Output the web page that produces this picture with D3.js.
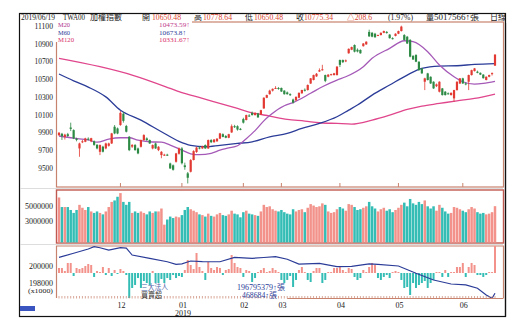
<!DOCTYPE html>
<html><head><meta charset="utf-8">
<script src="https://cdn.jsdelivr.net/npm/d3@7"></script>
<style>
html,body{margin:0;padding:0;background:#fff;}
svg{display:block;}
text{font-family:"Liberation Serif","Noto Sans CJK TC",serif;}
</style></head>
<body>
<svg id="c" width="527" height="325"></svg>
<script>
// ---------------- DATA ----------------
const monthTickIdx = [21, 42, 63, 76, 96, 116, 138];
const monthLabels = ["12", "01", "02", "03", "04", "05", "06"];
const priceTicks = [11100, 10900, 10700, 10500, 10300, 10100, 9900, 9700, 9500];
const volTicks = [5000000, 3000000];
const instTicks = [200000, 198000];

const openP = [9870,9885,9850,9880,9955,9926,9830,9720,9790,9795,9830,9800,9800,9760,9682,9740,9720,9750,9776,9964,9945,
9983,10110,9972,9851,9740,9758,9720,9739,9814,9833,9814,9720,9776,9701,9645,9645,9650,9551,9530,9570,9660,
9720,9530,9440,9458,9590,9680,9730,9720,9758,9720,9814,9790,9800,9830,9880,9860,9840,9900,9970,9970,9940,
10050,10040,10090,10120,10095,10114,10100,10170,10290,10330,10370,10395,10400,
10400,10370,10350,10330,10270,10260,10290,10340,10380,10377,10450,10490,10530,10585,10600,10545,10527,10550,10545,10545,
10714,10714,10700,10790,10830,10883,10830,10827,10870,10890,11030,11020,11010,10990,10995,11020,11030,11000,10960,10985,
11010,11040,10995,10976,10940,10760,10770,10695,10620,10470,10564,10526,10470,10420,10358,10395,10358,10340,10320,10283,10376,10450,
10508,10451,10470,10545,10590,10583,10570,10550,10490,10526,10560,10650.48];
const highP = [9905,9895,9885,9895,10010,9935,9840,9785,9815,9840,9845,9840,9810,9770,9765,9750,9785,9785,9895,9983,9955,
10140,10130,9985,9860,9770,9770,9730,9820,9880,9845,9820,9765,9785,9745,9690,9660,9660,9560,9540,9670,9730,
9735,9560,9455,9600,9700,9740,9745,9750,9765,9820,9825,9825,9835,9895,9890,9870,9885,9990,9985,9980,9950,
10065,10100,10105,10135,10125,10120,10155,10295,10325,10380,10395,10420,10410,
10405,10375,10360,10340,10280,10305,10350,10380,10395,10440,10512,10550,10568,10620,10660,10550,10555,10560,10570,10645,
10720,10720,10720,10845,10865,10890,10845,10835,10905,10925,11055,11030,11020,11000,11025,11045,11040,11005,10970,11015,
11045,11100,11005,10985,10950,10770,10780,10700,10625,10515,10570,10530,10475,10450,10475,10400,10365,10350,10350,10380,10475,10512,
10515,10460,10550,10605,10625,10595,10575,10555,10530,10550,10575,10778.64];
const lowP = [9860,9815,9820,9850,9915,9825,9800,9626,9780,9790,9810,9790,9750,9710,9645,9675,9710,9740,9770,9880,9880,
9975,10010,9900,9690,9725,9695,9655,9730,9805,9805,9770,9710,9715,9690,9610,9635,9635,9490,9470,9560,9650,
9540,9480,9326,9450,9585,9670,9710,9715,9715,9715,9780,9785,9795,9825,9845,9835,9835,9895,9950,9920,9925,
10000,10035,10075,10090,10090,10065,10095,10165,10285,10325,10360,10390,10380,
10355,10325,10325,10310,10225,10255,10285,10335,10360,10370,10445,10485,10525,10580,10595,10465,10520,10540,10540,10540,
10635,10680,10690,10785,10825,10800,10800,10785,10865,10885,10975,10970,10965,10985,10990,11015,11010,10955,10945,10980,
11005,11035,10935,10895,10745,10715,10690,10595,10560,10376,10485,10445,10390,10410,10350,10315,10315,10325,10315,10245,10370,10445,
10445,10430,10376,10540,10585,10565,10545,10505,10485,10520,10540,10650.48];
const closeP = [9896,9860,9875,9860,9940,9833,9815,9776,9800,9833,9820,9835,9760,9720,9758,9683,9776,9776,9889,9889,9888,
10120,10030,9908,9701,9758,9701,9664,9814,9870,9814,9776,9758,9720,9739,9682,9650,9645,9495,9480,9664,9720,
9554,9510,9390,9589,9690,9730,9720,9745,9720,9814,9790,9820,9830,9889,9850,9840,9880,9970,9960,9932,9932,
10010,10095,10080,10095,10120,10069,10150,10290,10320,10370,10390,10400,10390,
10360,10330,10330,10320,10235,10300,10345,10377,10370,10433,10508,10545,10560,10600,10610,10480,10550,10555,10565,10640,
10660,10690,10710,10840,10860,10808,10810,10790,10900,10920,10980,10977,10970,10995,11020,11040,11020,10960,10955,11010,
11040,11090,10940,10900,10752,10720,10695,10600,10564,10508,10489,10451,10395,10440,10470,10320,10320,10336,10345,10376,10470,10508,
10451,10440,10545,10600,10620,10570,10550,10510,10526,10545,10566.74,10775.34];

const volume = [6.2,4.9,4.9,4.9,4.5,4.1,4.5,5.2,4.8,4.5,4.9,4.3,4.1,4.3,4.1,3.9,4.3,4.9,5.6,5.8,6.3,
6.8,5.6,5.2,5.6,4.1,4.3,4.1,4.3,4.1,3.9,4.3,4.1,4.3,4.3,4.7,2.5,3.2,3.6,3.4,3.6,3.5,
3.8,4.5,4.9,4.6,4.4,4.2,3.9,3.8,3.6,4.0,3.7,3.6,3.9,4.1,3.8,3.7,3.9,4.4,4.0,3.9,3.5,
4.2,4.4,4.0,3.9,3.8,3.7,4.3,5.2,4.9,5.0,4.6,4.4,4.3,
4.5,4.2,4.0,3.9,4.6,4.3,4.5,4.6,4.2,4.8,5.3,5.1,4.9,5.0,5.4,5.2,4.3,4.1,4.2,4.6,
4.9,4.7,4.4,5.3,5.2,4.9,4.5,4.6,4.8,5.0,5.6,5.0,4.7,4.3,4.6,4.8,4.4,4.6,4.2,4.5,
4.8,5.2,5.5,5.0,6.0,5.4,5.2,5.6,5.3,5.8,5.0,4.7,5.0,4.4,5.2,4.8,4.3,4.0,4.1,4.9,4.8,4.6,
4.4,4.2,4.6,4.9,4.7,4.2,4.0,4.1,3.9,4.0,4.2,5.017566];

// institutional net buy/sell (lots)
const instNet = [87000,87000,35000,174000,174000,-52000,87000,69000,87000,121000,156000,139000,-69000,35000,17000,104000,-35000,87000,-52000,52000,-17000,
69000,35000,-35000,-434000,-260000,-208000,-87000,-260000,-139000,-174000,-208000,35000,-174000,-174000,-104000,-174000,-87000,-121000,-35000,-87000,-52000,
-69000,52000,226000,139000,69000,347000,104000,35000,-121000,191000,87000,52000,104000,87000,-35000,52000,69000,312000,174000,104000,87000,
-69000,52000,35000,-156000,-87000,17000,52000,87000,17000,35000,87000,52000,17000,
-121000,-174000,-121000,-52000,-243000,-121000,52000,104000,17000,-121000,-156000,35000,87000,87000,-174000,-121000,17000,17000,87000,87000,
104000,52000,17000,87000,69000,-69000,-121000,-87000,52000,17000,104000,174000,139000,-87000,-121000,-69000,-35000,-87000,17000,35000,
17000,-121000,-260000,-243000,-382000,-174000,-260000,-208000,-174000,-139000,-260000,-174000,-121000,17000,17000,-69000,52000,-69000,17000,17000,104000,104000,
174000,-69000,104000,174000,139000,-35000,-35000,-69000,-35000,17000,17000,468684];

// cumulative (x1000 lots), read at sample days
const cumIdx = [0,5,10,12,14,17,21,23,25,31,37,40,42,45,49,55,60,66,70,74,78,82,89,95,100,106,109,116,122,128,134,139,143,146,148,149];
const cumVal = [201020,201500,202000,202270,202150,201880,202150,202100,201290,200900,200500,200200,200250,200590,200510,200500,201020,200900,201000,201100,200800,200230,200310,199920,199950,200250,200200,200000,199140,198350,197880,197770,197380,196590,196200,196795];

// moving averages read at sample days
const m20Idx = [0,5,10,13,17,21,24,27,31,35,38,42,45,48,52,55,58,61,64,67,70,72,77,80,86,90,95,98,104,107,113,118,121,126,130,135,138,142,145,149];
const m20Val = [9860,9835,9815,9790,9825,9840,9840,9814,9795,9790,9758,9701,9660,9650,9665,9700,9725,9750,9830,9920,10030,10090,10200,10235,10340,10414,10489,10526,10639,10733,10845,10931,10920,10808,10658,10526,10470,10444,10451,10474];
const m60Idx = [0,5,10,16,21,28,35,41,45,50,55,61,66,72,78,83,89,95,99,102,107,113,119,124,130,136,142,149];
const m60Val = [10557,10480,10410,10300,10150,10039,9908,9800,9755,9739,9755,9776,9795,9851,9889,9945,10001,10076,10151,10208,10320,10433,10545,10620,10646,10650,10665,10674];
const m120Idx = [0,14,25,38,41,49,61,66,72,78,84,89,95,100,107,113,119,124,130,136,142,149];
const m120Val = [10733,10639,10545,10395,10358,10283,10170,10121,10084,10046,10028,10009,10001,9994,10039,10095,10159,10196,10226,10256,10283,10332];

// ---------------- DRAW ----------------
const svg = d3.select("#c");
const N = closeP.length;
const brown = "#c8836e";
const upC = "#e23a32", dnC = "#2d8a45";
const volUp = "#f2928a", volDn = "#33bdb5";

const x = d3.scaleLinear().domain([0, N - 1]).range([59, 495]);
const y = d3.scaleLinear().domain([9500, 10900]).range([168, 43.5]);
const yv = d3.scaleLinear().domain([0, 5000000]).range([243, 206.3]);
const yc = d3.scaleLinear().domain([198000, 200000]).range([283, 266]);
const yb = d3.scaleLinear().domain([0, 468684]).range([273, 246]);

// helper: text squeezed to reference width
function txt(g, t, xx, yy, size, color, len, anchor) {
  const el = g.append("text").attr("x", xx).attr("y", yy).attr("font-size", size).attr("fill", color).text(t);
  if (anchor) el.attr("text-anchor", anchor);
  if (len) el.attr("textLength", len).attr("lengthAdjust", "spacingAndGlyphs");
  return el;
}

// outer frame
svg.append("rect").attr("x", 19.5).attr("y", 13.5).attr("width", 486).attr("height", 303)
  .attr("fill", "none").attr("stroke", "#111").attr("stroke-width", 1.2);

// panel borders
svg.append("rect").attr("x", 56.5).attr("y", 22).attr("width", 447).attr("height", 165)
  .attr("fill", "none").attr("stroke", brown).attr("stroke-width", 1.2);
svg.append("rect").attr("x", 56.5).attr("y", 190).attr("width", 447).attr("height", 53)
  .attr("fill", "none").attr("stroke", "#c05a50").attr("stroke-width", 1.4);
svg.append("path").attr("d", "M56.5,298 V246 H503.5 V298").attr("fill", "none").attr("stroke", brown).attr("stroke-width", 1.2);
[188.5, 244.5].forEach(v => svg.append("line").attr("x1", 20).attr("x2", 503).attr("y1", v).attr("y2", v).attr("stroke", "#ddd"));

const defs = svg.append("defs");
defs.append("clipPath").attr("id", "cm").append("rect").attr("x", 57).attr("y", 22).attr("width", 446).attr("height", 165);
const gMain = svg.append("g").attr("clip-path", "url(#cm)");

// MA lines
const lineGen = d3.line().curve(d3.curveMonotoneX);
function maLine(idx, val, color) {
  gMain.append("path").attr("d", lineGen(idx.map((d, k) => [x(d), y(val[k])])))
    .attr("fill", "none").attr("stroke", color).attr("stroke-width", 1.3);
}
maLine(m120Idx, m120Val, "#e0468c");
maLine(m60Idx, m60Val, "#2b3c98");
maLine(m20Idx, m20Val, "#a55ab8");

// candles
const idx = d3.range(N);
gMain.selectAll("line.wick").data(idx).join("line")
  .attr("x1", i => x(i)).attr("x2", i => x(i))
  .attr("y1", i => y(highP[i])).attr("y2", i => y(lowP[i]))
  .attr("stroke", i => closeP[i] >= openP[i] ? upC : dnC).attr("stroke-width", 0.8);
gMain.selectAll("rect.body").data(idx).join("rect")
  .attr("x", i => x(i) - 1.1).attr("width", 2.2)
  .attr("y", i => y(Math.max(openP[i], closeP[i])))
  .attr("height", i => Math.max(1, Math.abs(y(openP[i]) - y(closeP[i]))))
  .attr("fill", i => closeP[i] >= openP[i] ? upC : dnC);

monthTickIdx.forEach(i => svg.append("line").attr("x1", x(i)).attr("x2", x(i)).attr("y1", 183).attr("y2", 187).attr("stroke", brown));

// legend white box (covers border)
svg.append("rect").attr("x", 54).attr("y", 19).attr("width", 138).attr("height", 23).attr("fill", "#fff");

// volume bars
svg.append("g").selectAll("rect").data(idx).join("rect")
  .attr("x", i => x(i) - 1.25).attr("width", 2.5)
  .attr("y", i => yv(volume[i] * 1e6)).attr("height", i => 242.5 - yv(volume[i] * 1e6))
  .attr("fill", i => closeP[i] >= openP[i] ? volUp : volDn);

// institutional bars
svg.append("g").selectAll("rect").data(idx).join("rect")
  .attr("x", i => x(i) - 1).attr("width", 2)
  .attr("y", i => Math.min(yb(instNet[i]), yb(0)))
  .attr("height", i => Math.abs(yb(instNet[i]) - yb(0)))
  .attr("fill", i => instNet[i] >= 0 ? volUp : volDn);

// cumulative line
svg.append("path").attr("d", d3.line()(cumIdx.map((d, k) => [x(d), yc(cumVal[k])])))
  .attr("fill", "none").attr("stroke", "#2b3c98").attr("stroke-width", 1.2);

// bottom tick line
svg.append("g").selectAll("line").data(idx).join("line")
  .attr("x1", i => x(i)).attr("x2", i => x(i)).attr("y1", 296).attr("y2", 298.5)
  .attr("stroke", brown).attr("stroke-width", 0.7);
svg.append("line").attr("x1", x(78)).attr("x2", 503.5).attr("y1", 298.5).attr("y2", 298.5).attr("stroke", brown).attr("stroke-width", 1.2);

// y labels
const gy = svg.append("g");
priceTicks.forEach(d => txt(gy, String(d), 53, y(d) + 3, 9, "#222", String(d).length * 3.7, "end"));
volTicks.forEach(d => txt(gy, String(d), 53, yv(d) + 3, 8, "#222", String(d).length * 4, "end"));
instTicks.forEach(d => txt(gy, String(d), 53, yc(d) + 2.5, 7.5, "#222", String(d).length * 4, "end"));
txt(gy, "(x1000)", 53, 292.5, 7, "#222", 25, "end");

// x labels
const gx = svg.append("g");
monthTickIdx.forEach((i, k) => txt(gx, monthLabels[k], x(i) + 1, 308, 8, "#222", 8, "middle"));
txt(gx, "2019", x(42) + 1, 315.5, 8, "#222", 16, "middle");

// header
const hdr = svg.append("g");
const red = "#d9442e";
[["2019/06/19", 21, "#222", 34], ["TWA00", 63, "#222", 22], ["加權指數", 90, "#222", 32],
 ["開", 142, "#222", 8], ["10650.48", 152, red, 29], ["高", 194, "#222", 8], ["10778.64", 203, red, 29],
 ["低", 245, "#222", 8], ["10650.48", 254, red, 29], ["收", 296, "#222", 8], ["10775.34", 304, red, 29],
 ["△208.6", 347, red, 25], ["(1.97%)", 388, "#222", 25], ["量", 426, "#222", 8], ["5017566↑張", 434, "#222", 45], ["日線", 490, "#222", 16]]
  .forEach(([t, xx, c, w]) => txt(hdr, t, xx, 20, 8.5, c, w));
svg.append("rect").attr("x", 506).attr("y", 13).attr("width", 20).attr("height", 10).attr("fill", "#fff");
svg.append("line").attr("x1", 505.5).attr("x2", 505.5).attr("y1", 13).attr("y2", 316.5).attr("stroke", "#111").attr("stroke-width", 1.2);

// legend
const leg = svg.append("g");
[["M20", "#b0308c", 27, 12], ["M60", "#2b3c98", 35, 12], ["M120", "#d8306a", 42, 16]].forEach(([t, c, yy, w]) =>
  txt(leg, t, 58, yy, 7, c, w));
[["10473.59↑", "#c03a8a", 27, 31], ["10673.8↑", "#2b3c98", 35, 27], ["10331.67↑", "#d8306a", 42, 31]].forEach(([t, c, yy, w]) =>
  txt(leg, t, 159, yy, 7, c, w));

// bottom panel labels
const bl = svg.append("g");
txt(bl, "三大法人", 141, 290, 7.5, "#4a62a8", 27);
txt(bl, "買賣超", 141, 298, 7.5, "#333", 21);
txt(bl, "196795379↑張", 237, 290, 7.5, "#2b3c98", 48);
txt(bl, "468684↑張", 242, 298, 7.5, "#2b3c98", 35);

// small blue box bottom-left
svg.append("rect").attr("x", 20).attr("y", 306).attr("width", 15).attr("height", 5).attr("fill", "#3a55c0");
</script>
</body></html>
